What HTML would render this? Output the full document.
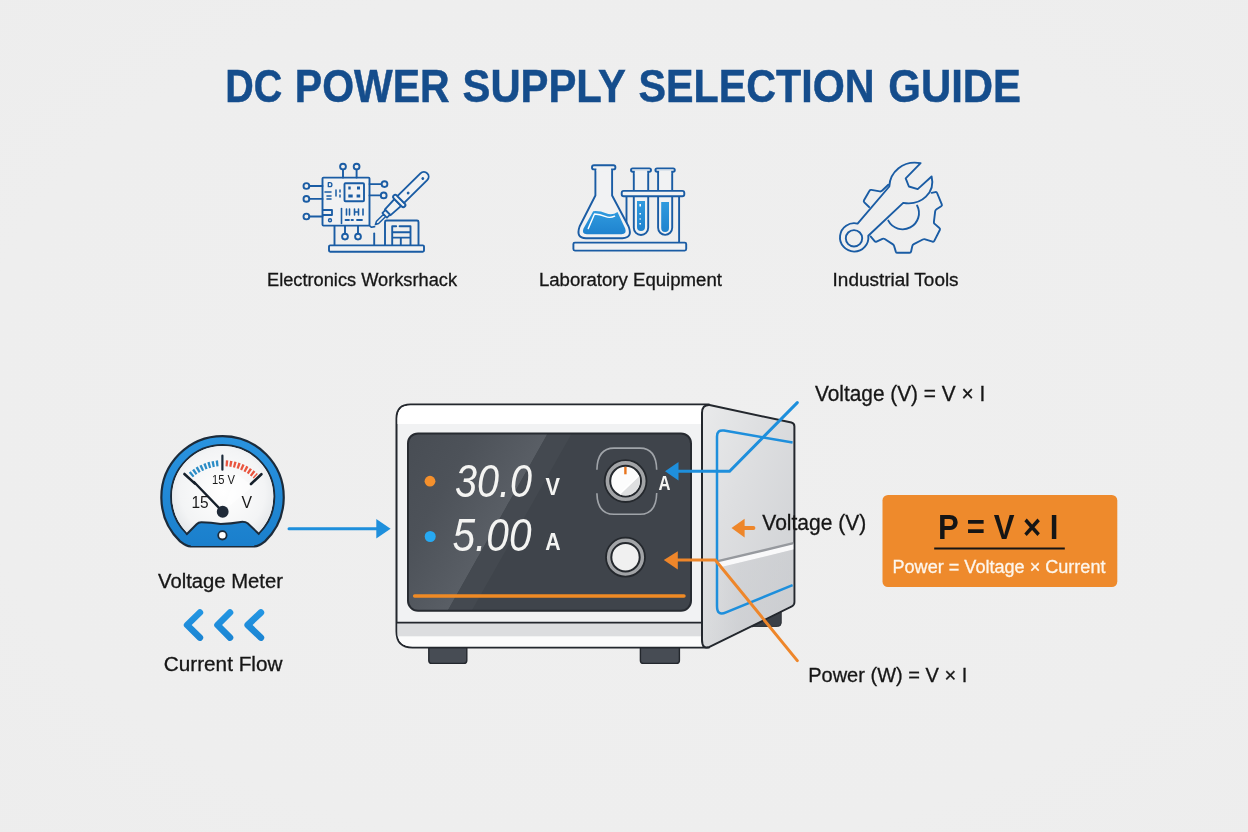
<!DOCTYPE html>
<html lang="en">
<head>
<meta charset="utf-8">
<title>DC Power Supply Selection Guide</title>
<style>
  html, body { margin: 0; padding: 0; background: #eeeeee; }
  body { width: 1248px; height: 832px; overflow: hidden; font-family: "Liberation Sans", sans-serif; }
  svg { display: block; will-change: transform; }
  text { font-family: "Liberation Sans", sans-serif; }
  .lbl { fill: #161616; stroke: #161616; stroke-width: 0.3; }
  .ico { fill: none; stroke: #1a5ca4; stroke-width: 1.9; stroke-linecap: round; stroke-linejoin: round; }
</style>
</head>
<body>
<svg width="1248" height="832" viewBox="0 0 1248 832">
  <defs>
    <radialGradient id="bg" cx="50%" cy="50%" r="75%">
      <stop offset="0" stop-color="#efefef"/>
      <stop offset="0.7" stop-color="#eeeeee"/>
      <stop offset="1" stop-color="#ededed"/>
    </radialGradient>
    <linearGradient id="liq" x1="0" y1="0" x2="0" y2="1">
      <stop offset="0" stop-color="#2f9ade"/>
      <stop offset="1" stop-color="#1f83cf"/>
    </linearGradient>
    <linearGradient id="side" x1="0" y1="0" x2="1" y2="1">
      <stop offset="0" stop-color="#e9eaeb"/>
      <stop offset="0.35" stop-color="#dedfe1"/>
      <stop offset="1" stop-color="#cdcfd2"/>
    </linearGradient>
    <linearGradient id="face" x1="0" y1="0" x2="0" y2="1">
      <stop offset="0" stop-color="#ffffff"/>
      <stop offset="1" stop-color="#e3e4e6"/>
    </linearGradient>
    <radialGradient id="mface" cx="0.5" cy="0.45" r="0.6">
      <stop offset="0" stop-color="#ffffff"/>
      <stop offset="0.7" stop-color="#f3f4f5"/>
      <stop offset="1" stop-color="#dfe2e5"/>
    </radialGradient>
    <clipPath id="mclip"><rect x="150" y="430" width="150" height="114"/></clipPath>
    <linearGradient id="shine" gradientUnits="userSpaceOnUse" x1="425" y1="364" x2="547" y2="433">
      <stop offset="0" stop-color="#464b52"/>
      <stop offset="0.55" stop-color="#4d5259"/>
      <stop offset="1" stop-color="#595e65"/>
    </linearGradient>
    <linearGradient id="lowside" gradientUnits="userSpaceOnUse" x1="703" y1="0" x2="740" y2="0">
      <stop offset="0" stop-color="#c6c8cc" stop-opacity="0"/>
      <stop offset="0.4" stop-color="#c6c8cc" stop-opacity="0.12"/>
      <stop offset="1" stop-color="#c6c8cc" stop-opacity="0.4"/>
    </linearGradient>
    <linearGradient id="ring" gradientUnits="userSpaceOnUse" x1="0" y1="436" x2="0" y2="546">
      <stop offset="0" stop-color="#2a94e0"/>
      <stop offset="1" stop-color="#1a7fcc"/>
    </linearGradient>
    <linearGradient id="chev" gradientUnits="userSpaceOnUse" x1="0" y1="609" x2="0" y2="641">
      <stop offset="0" stop-color="#2397e4"/>
      <stop offset="1" stop-color="#1b84d2"/>
    </linearGradient>
    <clipPath id="k1"><circle cx="625.6" cy="481.1" r="14.3"/></clipPath>
    <clipPath id="scr"><rect x="408" y="433.4" width="283" height="177.4" rx="10"/></clipPath>
  </defs>
  <rect width="1248" height="832" fill="url(#bg)"/>

  <!-- TITLE -->
  <g font-size="45.5" font-weight="bold" fill="#154d8c" stroke="#154d8c" stroke-width="0.5">
    <text x="225.2" y="101.8" textLength="57" lengthAdjust="spacingAndGlyphs">DC</text>
    <text x="294.8" y="101.8" textLength="154.8" lengthAdjust="spacingAndGlyphs">POWER</text>
    <text x="462.5" y="101.8" textLength="163.4" lengthAdjust="spacingAndGlyphs">SUPPLY</text>
    <text x="638.5" y="101.8" textLength="236" lengthAdjust="spacingAndGlyphs">SELECTION</text>
    <text x="888.3" y="101.8" textLength="132.7" lengthAdjust="spacingAndGlyphs">GUIDE</text>
  </g>

  <!-- ICON 1 -->
  <g id="icon-electronics" class="ico">
    <!-- board -->
    <rect x="322.5" y="177.6" width="47" height="48" rx="1" fill="#f1f2f3"/>
    <!-- top pins -->
    <path d="M343,177.6 V169.8 M356.6,177.6 V169.8"/>
    <circle cx="343" cy="166.6" r="2.9"/><circle cx="356.6" cy="166.6" r="2.9"/>
    <!-- left pins -->
    <path d="M322.5,186 H309.6 M322.5,198.9 H309.6 M322.5,216.5 H309.6"/>
    <circle cx="306.4" cy="186" r="2.9"/><circle cx="306.4" cy="198.9" r="2.9"/><circle cx="306.4" cy="216.5" r="2.9"/>
    <!-- right pins -->
    <path d="M369.5,184.1 H381.3 M369.5,195.4 H380.5"/>
    <circle cx="384.5" cy="184.1" r="2.9"/><circle cx="383.7" cy="195.4" r="2.9"/>
    <!-- chip -->
    <rect x="344.5" y="183.2" width="19.5" height="18" rx="1"/>
    <path d="M348.3,188 h2.4 M357,188 h3 M348.3,196 h4.4 M356.6,196 h3.6" stroke-width="3" stroke-linecap="butt"/>
    <!-- left details -->
    <path d="M328.3,182.7 h1.6 a2,2 0 0 1 0,4 h-1.6 z" stroke-width="1.3"/>
    <path d="M325,192 h6 M327,196 h4 M327,199 h4" stroke-width="1.6"/>
    <path d="M336,190 v6 M340,190 v2 M340,195 v2" stroke-width="1.5"/>
    <path d="M323,210 h9 v5 h-9" stroke-width="1.8"/>
    <circle cx="330" cy="220.3" r="1.5" stroke-width="1.4"/>
    <path d="M341.5,208.5 V223.5" stroke-width="1.6"/>
    <path d="M346.5,209 v6 M349.5,209 v6 M354.5,209 v6 M354.5,212 h4 M358.5,209 v6 M363,209 v6" stroke-width="1.6"/>
    <path d="M345.5,220 h3.5 M351.5,220 h1.5 M357,220 h5" stroke-width="1.8"/>
    <!-- stand -->
    <path d="M334.5,226 V245.4"/>
    <path d="M345,226 V233.4 M358,226 V233.4"/>
    <circle cx="345" cy="236.6" r="2.9"/><circle cx="358" cy="236.6" r="2.9"/>
    <path d="M374.2,233.5 V245"/><path d="M369.5,225.6 L371.5,227.3 L374.6,226.6" stroke-width="1.6"/>
    <!-- small unit -->
    <path d="M385,245.4 V222 a1.5,1.5 0 0 1 1.5,-1.5 H417 a1.5,1.5 0 0 1 1.5,1.5 V245.4"/>
    <path d="M392.2,245 V226.2 H396.2 M399.6,226.2 H410.5 V245 M392.2,232.2 H410.5 M392.2,237.6 H410.5 M400.8,237.6 V245"/>
    <!-- base -->
    <rect x="329" y="245.4" width="95" height="6.4" rx="1.2" fill="#f1f2f3"/>
    <!-- soldering iron -->
    <g transform="translate(375.4,224.5) rotate(-44.6)">
      <path d="M0,0 L3,-1.5 H13 V1.5 H3 Z" fill="#f1f2f3" stroke-width="1.5"/>
      <path d="M13,-3.3 H17.4 V3.3 H13 Z" fill="#f1f2f3" stroke-width="1.7"/>
      <path d="M17.4,-4 L31.4,-4.8 V4.8 L17.4,4 Z" fill="#f1f2f3"/>
      <rect x="31.4" y="-7.8" width="4.2" height="15.6" rx="2.1" fill="#f1f2f3"/>
      <path d="M35.6,-4.8 H68 a4.8,4.8 0 0 1 0,9.6 H35.6 Z" fill="#f1f2f3"/>
      <circle cx="45.4" cy="0.6" r="0.9" fill="#1a5ca4" stroke-width="1"/>
      <circle cx="66" cy="0.6" r="0.9" fill="#1a5ca4" stroke-width="1"/>
    </g>
  </g>
  <!-- ICON 2 -->
  <g id="icon-lab" class="ico">
    <!-- rack legs -->
    <path d="M626.5,196.2 V226 M679.1,196.2 V242.6"/>
    <!-- test tube 1 -->
    <path d="M633.8,171.6 V227.8 a7.2,7.2 0 0 0 14.4,0 V171.6" fill="#f1f2f3"/>
    <rect x="631" y="168.4" width="20" height="3.4" rx="1.7" fill="#f1f2f3"/>
    <rect x="634.8" y="170.4" width="12.4" height="3.2" fill="#f1f2f3" stroke="none"/>
    <path d="M637,201 H645 V227 a4,4 0 0 1 -8,0 Z" fill="url(#liq)" stroke="none"/>
    <path d="M640.2,204 v2.5 M640.2,213 v1.6 M640.2,218.5 v1 M640.2,223 v1.6" stroke="#ffffff" stroke-width="1.6" stroke-linecap="butt"/>
    <!-- test tube 2 -->
    <path d="M658.1,171.6 V227.8 a7.05,7.05 0 0 0 14.1,0 V171.6" fill="#f1f2f3"/>
    <rect x="655.4" y="168.4" width="19.4" height="3.4" rx="1.7" fill="#f1f2f3"/>
    <rect x="659.1" y="170.4" width="12.1" height="3.2" fill="#f1f2f3" stroke="none"/>
    <path d="M661.2,202 H669 V228 a3.9,3.9 0 0 1 -7.8,0 Z" fill="url(#liq)" stroke="none"/>
    <!-- rack bar -->
    <rect x="621.7" y="190.9" width="62.6" height="5.3" rx="2" fill="#f1f2f3"/>
    <!-- flask -->
    <path d="M595.4,169.4 V195.5 L579.6,226.5 Q575.5,238 586,238.2 H622.4 Q633,238 628.6,226.5 L612.1,195.5 V169.4" fill="#f1f2f3"/>
    <rect x="592" y="165.2" width="23.4" height="4.2" rx="2" fill="#f1f2f3"/>
    <rect x="596.4" y="167.6" width="14.7" height="3.6" fill="#f1f2f3" stroke="none"/>
    <path d="M593.2,211.2 Q600,210.6 606,213.2 T617.5,212 L625.2,228.5 Q627,234 621.5,234.2 H586.8 Q581.5,234 583.4,228.8 Z" fill="url(#liq)" stroke="none"/>
    <path d="M588.2,228.6 L594.5,214 Q600,214.3 605,216.4 T614.6,216.2" stroke="#ffffff" stroke-width="1.4"/>
    <!-- base -->
    <rect x="573.4" y="242.6" width="112.8" height="8" rx="1.5" fill="#f1f2f3"/>
  </g>
  <!-- ICON 3 -->
  <g id="icon-tools" class="ico">
    <!-- gear -->
    <path d="M888.3,184.7 L882.0,190.7 Q881.1,191.6 879.8,191.4 L871.4,189.9 Q870.1,189.7 869.5,190.8 L864.0,200.3 Q863.4,201.4 864.3,202.3 L869.1,207.0"/>
    <path d="M931.6,192.9 L935.3,192.1 Q936.6,191.8 937.1,193.0 L941.8,204.3 Q942.3,205.5 941.2,206.2 L936.5,209.2 Q935.4,209.9 935.2,211.2 L933.9,221.8 Q933.7,223.1 934.7,223.9 L939.4,228.0 Q940.4,228.8 939.8,230.0 L934.3,240.9 Q933.7,242.1 932.5,241.7 L925.2,239.3 Q924.0,238.9 922.8,239.5 L913.8,244.2 Q912.6,244.8 912.3,246.1 L911.1,251.5 Q910.8,252.8 909.5,252.8 L897.5,252.8 Q896.2,252.8 895.8,251.6 L894.1,246.0 Q893.7,244.8 892.6,244.1 L884.7,239.0 Q883.6,238.3 882.4,238.8 L876.6,241.6 Q875.4,242.1 874.6,241.1 L870.6,236.4"/>
    <path d="M917.1,205.5 A16.2,16.2 0 0 1 888.3,220.6"/>
    <!-- wrench -->
    <path d="M857.6,223.6 L889.3,186.5 C889.8,172 903,160 920.6,163.2 L905.7,178.3 L908.9,186.5 L917.7,189.1 L931.6,176.5 C935.5,192 922,206 903.2,202.9 L868.3,235.8 A14.2,14.2 0 1 1 857.6,223.6 Z"/>
    <circle cx="854" cy="238.3" r="8.2"/>
  </g>

  <!-- ICON LABELS -->
  <text class="lbl" x="267" y="285.9" font-size="18" textLength="190" lengthAdjust="spacingAndGlyphs">Electronics Worksrhack</text>
  <text class="lbl" x="538.9" y="285.9" font-size="18" textLength="183" lengthAdjust="spacingAndGlyphs">Laboratory Equipment</text>
  <text class="lbl" x="832.6" y="285.9" font-size="18" textLength="126" lengthAdjust="spacingAndGlyphs">Industrial Tools</text>

  <!-- METER -->
  <g id="meter">
    <path d="M190.5,546.4 Q186.5,546.4 180.1,541.4 A61.2,61.2 0 1 1 265.0,541.4 Q258.6,546.4 254.6,546.4 Z" fill="url(#ring)" stroke="#1c2b3a" stroke-width="2.2" stroke-linejoin="round"/>
    <circle cx="222.7" cy="496.6" r="51.6" fill="#f4f5f6" stroke="#1c2b3a" stroke-width="2" clip-path="url(#mclip)"/>
    <circle cx="222.7" cy="496.6" r="50.6" fill="url(#mface)" clip-path="url(#mclip)"/>
    <path d="M222.7,511.75 L236.5,474 L253,486 Z" fill="#ffffff" opacity="0.55"/>
    <path d="M186.2,534.8 L196.6,524.2 Q198.6,522.2 201.5,522.3 Q211,522.6 220.7,524 Q231,523.6 240.9,521.9 Q245.5,521.6 247.6,523.2 L259.4,534.4 L254,546 H191 Z" fill="url(#ring)"/>
    <path d="M186.2,534.8 L196.6,524.2 Q198.6,522.2 201.5,522.3 Q211,522.6 220.7,524 Q231,523.6 240.9,521.9 Q245.5,521.6 247.6,523.2 L259.4,534.4" fill="none" stroke="#1c2b3a" stroke-width="2" stroke-linejoin="round"/>
    <circle cx="222.4" cy="535.3" r="4.2" fill="#ffffff" stroke="#1c2b3a" stroke-width="1.8"/>
    <path d="M190.8,475.1 A48.6,48.6 0 0 1 218.9,463.3" fill="none" stroke="#2a8cc6" stroke-width="6" stroke-dasharray="2.3 1.7"/>
    <path d="M225.7,463.2 A48.6,48.6 0 0 1 255.8,476.2" fill="none" stroke="#e9553f" stroke-width="6" stroke-dasharray="2.3 1.7"/>
    <path d="M222.4,455.7 V469.7" stroke="#1c2b3a" stroke-width="2.2" stroke-linecap="round"/>
    <path d="M251,484 L261.4,474.2" stroke="#16202b" stroke-width="2.6" stroke-linecap="round"/>
    <path d="M184.4,474 L195,483.6" stroke="#16202b" stroke-width="2.6" stroke-linecap="round"/>
    <path d="M194,482 L222.7,511.75" stroke="#16202b" stroke-width="2.4" stroke-linecap="round"/>
    <circle cx="222.7" cy="511.75" r="5.9" fill="#1f2a38"/>
    <text x="212" y="484.4" font-size="12.6" fill="#1a1a1a" textLength="23" lengthAdjust="spacingAndGlyphs">15 V</text>
    <text x="191.4" y="507.5" font-size="15.8" fill="#1a1a1a" textLength="17.2" lengthAdjust="spacingAndGlyphs">15</text>
    <text x="241.4" y="507.5" font-size="15.8" fill="#1a1a1a">V</text>
  </g>

  <!-- POWER SUPPLY -->
  <g id="psu">
    <!-- feet -->
    <rect x="428.8" y="644" width="38" height="19.4" rx="3" fill="#474c54" stroke="#23272d" stroke-width="1.4"/>
    <rect x="640.4" y="644" width="39" height="19.4" rx="3" fill="#474c54" stroke="#23272d" stroke-width="1.4"/>
    <path d="M752,627 L781.2,610.3 V623 Q781.2,626.4 777.6,626.4 H752 Z" fill="#3b4047" stroke="#2a2e34" stroke-width="1"/>
    <!-- front face -->
    <path d="M410.5,404.5 H709 V647.6 H412.5 Q396.5,647.6 396.5,631.6 V418.5 Q396.5,404.5 410.5,404.5 Z" fill="#f1f2f3" stroke="#23272d" stroke-width="2" stroke-linejoin="round"/>
    <path d="M410.5,405.5 H708 V424 H397.5 V418.5 Q397.5,405.5 410.5,405.5 Z" fill="#ffffff"/>
    <path d="M397.5,623 H702 V636.4 H397.5 Z" fill="#dcdddf"/>
    <path d="M397.5,636.4 H702 V646.6 H412.5 Q400,646.6 397.8,636.4 Z" fill="#fbfbfb"/>
    <path d="M396.5,622.6 H702" stroke="#23272d" stroke-width="1.6"/>
    <!-- side face -->
    <path d="M702,413 Q702,404.6 709.5,404.9 L791.4,422.6 Q794.4,423.3 794.4,426.4 V602 Q794.4,605 791.8,606.3 L709.5,646.9 Q702,649.4 702,640 Z" fill="url(#side)" stroke="#23272d" stroke-width="2" stroke-linejoin="round"/>
    <!-- side groove -->
    <path d="M717.9,561.6 L793.4,543.7 V549.6 L717.9,567.8 Z" fill="#f9f9fa"/>
    <path d="M717.9,561.1 L793.4,543.2" stroke="#96999e" stroke-width="2.4" fill="none"/>
    <path d="M703,571.5 L793.4,549.6 V604.6 L709,646 L703,645 Z" fill="url(#lowside)"/>
    <!-- side blue outline -->
    <path d="M792.6,442.6 L724,430.6 Q717,429.6 717,436.5 V606 Q717,616.5 726,612.4 L792.6,585.2" fill="none" stroke="#1e8fdc" stroke-width="2.5"/>
    <!-- screen -->
    <rect x="408" y="433.4" width="283" height="177.4" rx="10" fill="#3f444b"/>
    <g clip-path="url(#scr)">
      <path d="M408,433 H548 L447,612 H408 Z" fill="url(#shine)"/>
      <path d="M548,433 H572 L471,612 H447 Z" fill="#444950"/>
    </g>
    <rect x="408" y="433.4" width="283" height="177.4" rx="10" fill="none" stroke="#272b31" stroke-width="2"/>
    <path d="M414.6,596 H684" stroke="#f08a24" stroke-width="3.4" stroke-linecap="round"/>
    <!-- leds -->
    <circle cx="430" cy="481.2" r="5.4" fill="#f5902c"/>
    <circle cx="430.2" cy="536.5" r="5.5" fill="#27a9f2"/>
    <!-- digits -->
    <text x="455" y="497.4" font-size="46" font-style="italic" fill="#f4f4f2" textLength="77" lengthAdjust="spacingAndGlyphs">30.0</text>
    <text x="452.5" y="551.2" font-size="46" font-style="italic" fill="#f4f4f2" textLength="79" lengthAdjust="spacingAndGlyphs">5.00</text>
    <text x="545.6" y="494.6" font-size="24" font-weight="bold" fill="#f4f4f2" textLength="14.5" lengthAdjust="spacingAndGlyphs">V</text>
    <text x="545.2" y="550" font-size="24" font-weight="bold" fill="#f4f4f2" textLength="15.4" lengthAdjust="spacingAndGlyphs">A</text>
    <!-- knob 1 -->
    <path d="M596.9,469.8 C597.2,455 603.5,448.1 614,448.1 H640 C650.5,448.1 656.4,455 656.7,469.8" fill="none" stroke="#a0a4a9" stroke-width="1.6"/>
    <path d="M596.9,493.2 C597.2,507.5 603.5,514.3 614,514.3 H640 C650.5,514.3 656.4,507.5 656.7,493" fill="none" stroke="#a0a4a9" stroke-width="1.6"/>
    <circle cx="625.6" cy="481.1" r="20.9" fill="#a2a4a7" stroke="#24282d" stroke-width="1.8"/>
    <circle cx="625.6" cy="481.1" r="15.4" fill="#fcfcfc" stroke="#24282d" stroke-width="2"/>
    <g clip-path="url(#k1)">
      <path d="M617,497 L642,473 V500 H617 Z" fill="#dedfe0"/>
      <path d="M619.5,494.1 L639.4,475" stroke="#ffffff" stroke-width="1.6"/>
    </g>
    <path d="M625.4,467 V474.3" stroke="#e8741c" stroke-width="2.4"/>
    <text x="658.4" y="490.2" font-size="20" font-weight="bold" fill="#f4f4f2" textLength="12" lengthAdjust="spacingAndGlyphs">A</text>
    <!-- knob 2 -->
    <circle cx="625.5" cy="557.2" r="19.5" fill="#a2a4a7" stroke="#24282d" stroke-width="1.8"/>
    <circle cx="625.5" cy="557.2" r="14.2" fill="#f0f0f0" stroke="#24282d" stroke-width="2"/>
  </g>

  <!-- ARROWS -->
  <g id="arrows">
    <!-- meter to psu -->
    <path d="M289,528.7 H378" stroke="#1e8fdc" stroke-width="3" stroke-linecap="round"/>
    <path d="M376.3,519 L390.6,528.7 L376.3,538.4 Z" fill="#1e8fdc"/>
    <!-- blue voltage arrow -->
    <path d="M677,471.3 H729.6 L797.3,402.6" fill="none" stroke="#1e8fdc" stroke-width="3" stroke-linecap="round" stroke-linejoin="miter"/>
    <path d="M678.5,462 L665,471.2 L678.5,480.4 Z" fill="#1e8fdc"/>
    <!-- orange power arrow -->
    <path d="M676.5,560 H715.3 L797.3,660.6" fill="none" stroke="#ee862a" stroke-width="3" stroke-linecap="round" stroke-linejoin="miter"/>
    <path d="M677.8,551.2 L663.8,560 L677.8,569.4 Z" fill="#ee862a"/>
    <!-- small orange arrow -->
    <path d="M743.5,528 H753.4" stroke="#ee862a" stroke-width="4" stroke-linecap="round"/>
    <path d="M744.6,518.8 L731.5,528 L744.6,537.4 Z" fill="#ee862a"/>
    <!-- chevrons -->
    <path d="M199.9,612.5 L187.1,625 L199.9,637.6 M230,612.5 L217.5,625 L230,637.6 M260.9,612.5 L247.7,625 L260.9,637.6" fill="none" stroke="url(#chev)" stroke-width="6.6" stroke-linecap="round" stroke-linejoin="round"/>
  </g>

  <!-- RIGHT LABELS -->
  <g id="rlabels">
    <text class="lbl" x="158" y="587.8" font-size="20" textLength="125" lengthAdjust="spacingAndGlyphs">Voltage Meter</text>
    <text class="lbl" x="163.8" y="671.1" font-size="20" textLength="118.6" lengthAdjust="spacingAndGlyphs">Current Flow</text>
    <text class="lbl" x="815" y="400.8" font-size="21.2" textLength="170.2" lengthAdjust="spacingAndGlyphs">Voltage (V) = V × I</text>
    <text class="lbl" x="762.3" y="529.8" font-size="21.2" textLength="104" lengthAdjust="spacingAndGlyphs">Voltage (V)</text>
    <text class="lbl" x="808.2" y="681.5" font-size="21" textLength="159" lengthAdjust="spacingAndGlyphs">Power (W) = V × I</text>
    <rect x="882.5" y="495" width="234.8" height="92" rx="5.5" fill="#ee8a2c"/>
    <text x="938" y="538.8" font-size="35" font-weight="bold" fill="#151515" textLength="120.5" lengthAdjust="spacingAndGlyphs">P = V × I</text>
    <path d="M934.2,548.6 H1064.8" stroke="#151515" stroke-width="2"/>
    <text x="892.5" y="572.9" font-size="18" fill="#fdf6ec" stroke="#fdf6ec" stroke-width="0.3" textLength="213" lengthAdjust="spacingAndGlyphs">Power = Voltage × Current</text>
  </g>
</svg>
</body>
</html>
